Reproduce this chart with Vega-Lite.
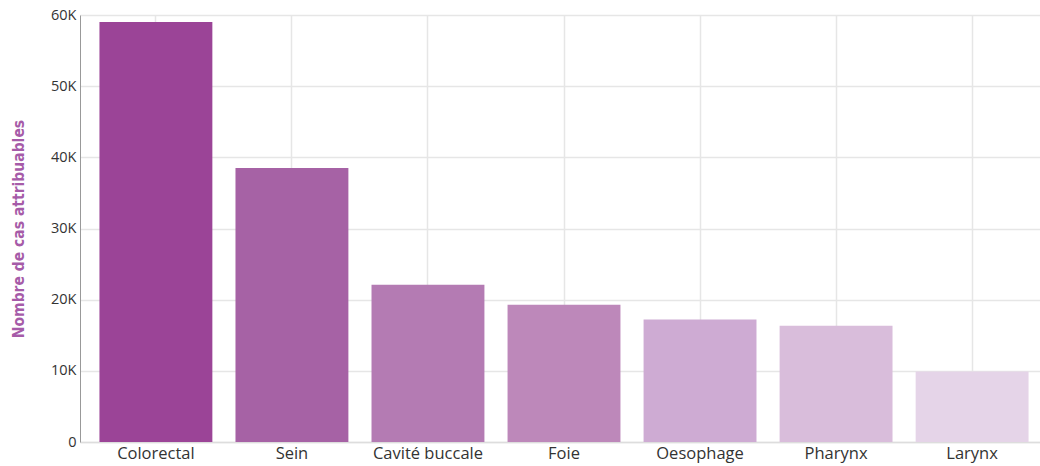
{
  "$schema": "https://vega.github.io/schema/vega-lite/v6.json",
  "autosize": {"type": "none"},
  "padding": {"left": 80, "top": 15, "right": 0, "bottom": 24},
  "width": 968,
  "height": 427,
  "background": "white",
  "data": {
    "values": [
      {"cancer": "Colorectal", "cas": 59000},
      {"cancer": "Sein", "cas": 38500},
      {"cancer": "Cavité buccale", "cas": 22100},
      {"cancer": "Foie", "cas": 19300},
      {"cancer": "Oesophage", "cas": 17200},
      {"cancer": "Pharynx", "cas": 16350},
      {"cancer": "Larynx", "cas": 9900}
    ]
  },
  "mark": {"type": "bar"},
  "encoding": {
    "x": {
      "field": "cancer",
      "type": "nominal",
      "sort": null,
      "scale": {"paddingInner": 0.17, "paddingOuter": 0.143},
      "axis": {
        "title": null,
        "labelAngle": 0,
        "labelFont": "Open Sans",
        "labelFontSize": 16.5,
        "labelColor": "#333333",
        "labelPadding": 3,
        "ticks": false,
        "grid": true,
        "bandPosition": 0.5,
        "gridColor": "#e6e6e6",
        "gridWidth": 1.5,
        "domainColor": "#dddddd",
        "domainWidth": 1.5
      }
    },
    "y": {
      "field": "cas",
      "type": "quantitative",
      "scale": {"domain": [0, 60000]},
      "axis": {
        "title": "Nombre de cas attribuables",
        "titleFont": "DejaVu Sans Condensed",
        "titleFontSize": 15.5,
        "titleFontWeight": "bold",
        "titleColor": "#a65ba8",
        "titlePadding": 24,
        "tickCount": 6,
        "labelExpr": "datum.value == 0 ? '0' : (datum.value / 1000) + 'K'",
        "labelFont": "Open Sans",
        "labelFontSize": 14.5,
        "labelColor": "#333333",
        "labelPadding": 4,
        "ticks": false,
        "gridColor": "#e6e6e6",
        "gridWidth": 1.5,
        "domainColor": "#999999",
        "domainWidth": 1
      }
    },
    "color": {
      "field": "cancer",
      "type": "nominal",
      "sort": null,
      "legend": null,
      "scale": {
        "domain": ["Colorectal", "Sein", "Cavité buccale", "Foie", "Oesophage", "Pharynx", "Larynx"],
        "range": ["#9b4497", "#a662a5", "#b47bb3", "#bd88ba", "#ceabd3", "#d9bddb", "#e5d4e8"]
      }
    }
  },
  "config": {"view": {"stroke": null}}
}
